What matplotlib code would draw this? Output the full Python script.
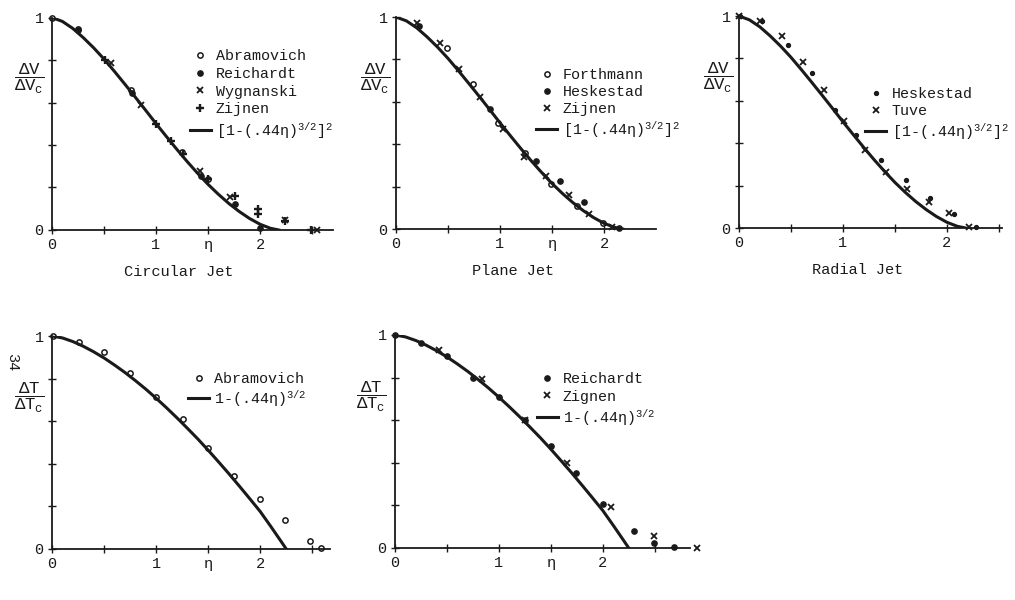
import matplotlib; matplotlib.use("Agg")
import matplotlib.pyplot as plt
import numpy as np

plt.rcParams['font.family']=['Liberation Mono','DejaVu Sans']
plt.rcParams['mathtext.fontset']='custom'
plt.rcParams['mathtext.rm']='Liberation Mono'
plt.rcParams['mathtext.it']='Liberation Mono'
plt.rcParams['mathtext.bf']='Liberation Mono:bold'
INK="#1a1a1a"

# curves
eta_v=[0,0.1,0.2,0.3,0.4,0.5,0.6,0.7,0.8,0.9,1.0,1.1,1.2,1.3,1.4,1.5,1.6,1.7,1.8,1.9,2.0,2.1,2.18]
fit_v=[1.0,0.982,0.949,0.906,0.858,0.805,0.747,0.687,0.626,0.564,0.501,0.44,0.38,0.322,0.267,0.215,0.168,0.125,0.087,0.054,0.027,0.008,0.0]
eta_t=[0,0.1,0.2,0.3,0.4,0.5,0.6,0.7,0.8,0.9,1.0,1.1,1.2,1.3,1.4,1.5,1.6,1.7,1.8,1.9,2.0,2.1,2.2,2.25]
fit_t=[1.0,0.991,0.974,0.952,0.926,0.897,0.864,0.829,0.791,0.751,0.708,0.663,0.616,0.567,0.517,0.464,0.409,0.353,0.295,0.236,0.176,0.107,0.036,0.0]

# circular jet
abr_x=[0.0,0.25,0.76,1.25,1.5]; abr_y=[1.0,0.945,0.66,0.365,0.24]
rei_x=[0.25,0.77,1.43,1.76,2.0]; rei_y=[0.94,0.645,0.255,0.12,0.008]
wyg_x=[0.57,0.86,1.42,1.71,2.24,2.55]; wyg_y=[0.785,0.59,0.28,0.157,0.045,0.0]
zij_x=[0.51,1.0,1.14,1.26,1.5,1.76,1.98,1.98,2.24,2.49]; zij_y=[0.80,0.50,0.42,0.36,0.238,0.162,0.097,0.075,0.04,0.0]
# plane jet
for_x=[0.49,0.74,0.985,1.24,1.49,1.74,1.99]; for_y=[0.852,0.684,0.50,0.36,0.212,0.108,0.03]
hes2_x=[0.22,0.90,1.35,1.58,1.81,2.14]; hes2_y=[0.958,0.565,0.322,0.225,0.127,0.006]
zij2_x=[0.2,0.42,0.61,0.81,1.03,1.23,1.44,1.66,1.86,2.08]; zij2_y=[0.973,0.879,0.753,0.621,0.47,0.338,0.251,0.16,0.071,0.011]
# radial jet
hes3_x=[0.01,0.22,0.47,0.70,0.92,1.13,1.37,1.61,1.84,2.07,2.28]; hes3_y=[1.0,0.975,0.863,0.73,0.557,0.439,0.321,0.226,0.14,0.065,0.006]
tuv_x=[0.0,0.2,0.41,0.62,0.82,1.01,1.21,1.41,1.62,1.83,2.02,2.21]; tuv_y=[1.0,0.978,0.906,0.784,0.651,0.506,0.368,0.266,0.184,0.121,0.069,0.006]
# temperature, circular
abt_x=[0.01,0.256,0.50,0.75,1.0,1.256,1.50,1.75,2.0,2.24,2.48,2.58]; abt_y=[1.0,0.973,0.923,0.824,0.712,0.61,0.472,0.343,0.234,0.135,0.036,0.006]
# temperature, plane
ret_x=[0.0,0.25,0.50,0.755,1.005,1.25,1.50,1.74,2.0,2.30,2.49,2.69]; ret_y=[1.0,0.961,0.901,0.80,0.71,0.603,0.48,0.353,0.205,0.08,0.024,0.005]
zig_x=[0.42,0.835,1.25,1.66,2.08,2.49,2.91]; zig_y=[0.929,0.792,0.603,0.401,0.193,0.055,0.0]

LV=r"[1-(.44η)$^{3/2}$]$^{2}$"; LT=r"1-(.44η)$^{3/2}$"
fig=plt.figure(figsize=(10.15,6),dpi=100)

def panel(rect,xmax,etalab,ylab,title=None):
    ax=fig.add_axes(rect); ax.set_xlim(0,xmax); ax.set_ylim(0,1)
    for s in ("top","right"): ax.spines[s].set_visible(False)
    for s in ("left","bottom"): ax.spines[s].set_color(INK); ax.spines[s].set_linewidth(1.3)
    xt=np.arange(0,xmax,0.5); ax.set_xticks(xt)
    ax.set_xticklabels(["0","","1",etalab,"2",""][:len(xt)],fontsize=11,color=INK)
    ax.set_yticks([0,0.2,0.4,0.6,0.8,1.0]); ax.set_yticklabels(["0","","","","","1"],fontsize=11,color=INK)
    ax.tick_params(direction="inout",length=6,width=1,color=INK,pad=3)
    ax.text(-0.08,0.71,ylab,transform=ax.transAxes,ha="center",va="center",fontsize=12.5,color=INK)
    if title: ax.text(0.45,-0.2,title,transform=ax.transAxes,ha="center",va="center",fontsize=11,color=INK)
    return ax

def pts(ax,x,y,kind,label):
    st={"o":dict(marker="o",ms=3.8,mfc="none",mew=1.1),"dot":dict(marker="o",ms=3.8),
        "x":dict(marker="x",ms=4.2,mew=1.3),"+":dict(marker="+",ms=5.5,mew=1.7),".":dict(marker="o",ms=2.8)}[kind]
    return ax.plot(x,y,ls="none",color=INK,clip_on=False,label=label,**st)[0]

def leg(ax,hs,anchor,spacing):
    ax.legend(handles=hs,loc="upper left",bbox_to_anchor=anchor,frameon=False,fontsize=10.8,handlelength=1.4,
              handletextpad=0.35,borderpad=0,borderaxespad=0,labelspacing=spacing,labelcolor=INK)

fv=r"$\dfrac{\Delta V}{\Delta V_{c}}$"; ft=r"$\dfrac{\Delta T}{\Delta T_{c}}$"

ax=panel([0.0512,0.6167,0.2767,0.354],2.7,"η",fv,"Circular Jet")
ln=ax.plot(eta_v,fit_v,color=INK,lw=2.2,label=LV)[0]
hs=[pts(ax,abr_x,abr_y,"o","Abramovich"),pts(ax,rei_x,rei_y,"dot","Reichardt"),pts(ax,wyg_x,wyg_y,"x","Wygnanski"),pts(ax,zij_x,zij_y,"+","Zijnen"),ln]
leg(ax,hs,(0.49,0.85),0.24)

ax=panel([0.3901,0.6183,0.2562,0.3533],2.5,"η",fv,"Plane Jet")
ln=ax.plot(eta_v,fit_v,color=INK,lw=2.2,label=LV)[0]
hs=[pts(ax,for_x,for_y,"o","Forthmann"),pts(ax,hes2_x,hes2_y,"dot","Heskestad"),pts(ax,zij2_x,zij2_y,"x","Zijnen"),ln]
leg(ax,hs,(0.54,0.76),0.2)

ax=panel([0.7281,0.62,0.2591,0.3533],2.53,"",fv,"Radial Jet")
ln=ax.plot(eta_v,fit_v,color=INK,lw=2.2,label=LV)[0]
hs=[pts(ax,hes3_x,hes3_y,".","Heskestad"),pts(ax,tuv_x,tuv_y,"x","Tuve"),ln]
leg(ax,hs,(0.48,0.665),0.2)

ax=panel([0.0512,0.085,0.2739,0.355],2.67,"η",ft)
ln=ax.plot(eta_t,fit_t,color=INK,lw=2.2,label=LT)[0]
hs=[pts(ax,abt_x,abt_y,"o","Abramovich"),ln]
leg(ax,hs,(0.49,0.83),0.1)

ax=panel([0.3892,0.0867,0.2906,0.355],2.84,"η",ft)
ln=ax.plot(eta_t,fit_t,color=INK,lw=2.2,label=LT)[0]
hs=[pts(ax,ret_x,ret_y,"dot","Reichardt"),pts(ax,zig_x,zig_y,"x","Zignen"),ln]
leg(ax,hs,(0.48,0.825),0.22)

fig.text(0.012,0.397,"34",rotation=-90,fontsize=11,color=INK,ha="center",va="center")
fig.savefig("out.png",dpi=100,facecolor="white")
